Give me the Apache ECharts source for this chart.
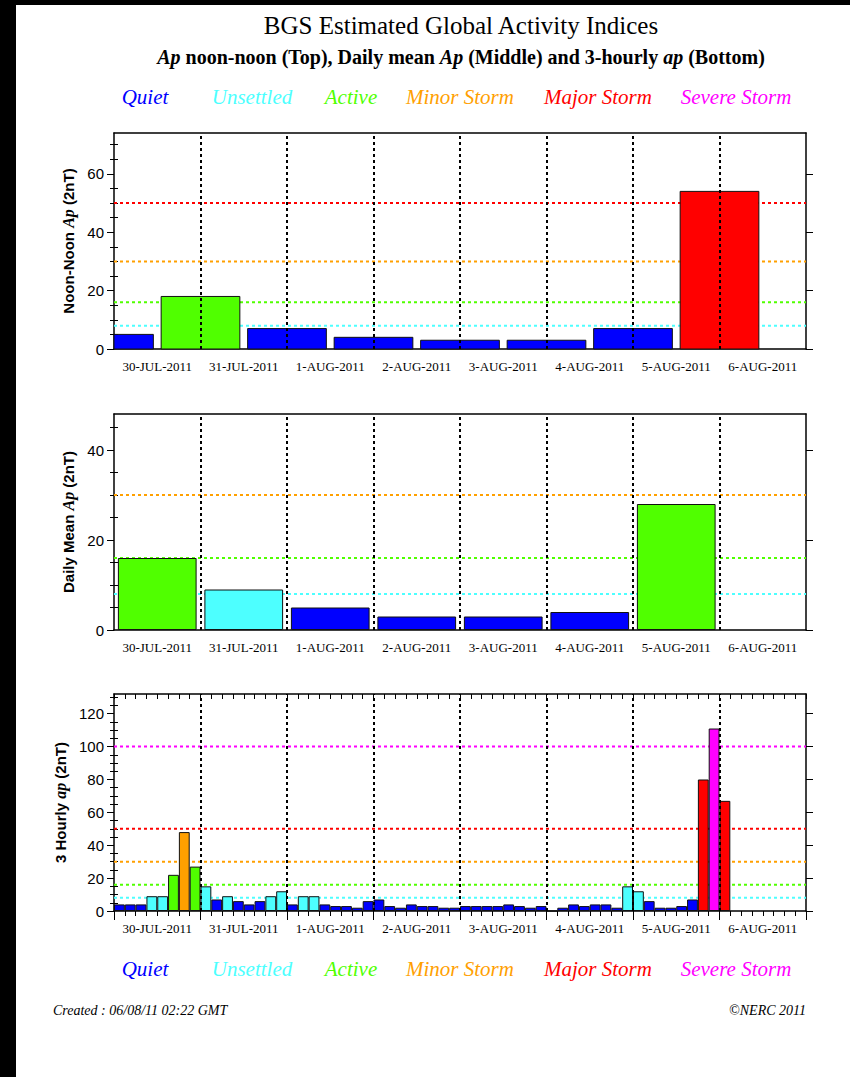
<!DOCTYPE html>
<html>
<head>
<meta charset="utf-8">
<script src="https://cdn.jsdelivr.net/npm/echarts@6/dist/echarts.min.js"></script>
<style>
html,body{margin:0;padding:0;background:#fff;}
#c{width:850px;height:1077px;}
</style>
</head>
<body>
<div id="c"></div>
<script>
// ---------- data ----------
const dayLabels = ['30-JUL-2011','31-JUL-2011','1-AUG-2011','2-AUG-2011','3-AUG-2011','4-AUG-2011','5-AUG-2011','6-AUG-2011'];
// Noon-noon Ap: each bar centred on the midnight that starts the given day index
const noonDayIndex = [0,1,2,3,4,5,6,7];
const noonAp = [5,18,7,4,3,3,7,54];
// Daily mean Ap (30-Jul .. 5-Aug)
const dailyAp = [16,9,5,3,3,4,28];
// 3-hourly ap, 8 values per day from 30-Jul 00UT
const hourlyAp = [
  4,4,4,9,9,22,48,27,
  15,7,9,6,4,6,9,12,
  4,9,9,4,3,3,2,6,
  7,3,2,4,3,3,2,2,
  3,3,3,3,4,3,2,3,
  0,2,4,3,4,4,2,15,
  12,6,2,2,3,7,80,111,
  67
];
const thresholds = [8,16,30,50,100];
const levelNames = ['Quiet','Unsettled','Active','Minor Storm','Major Storm','Severe Storm'];
const topTicks = [0,20,40,60];
const midTicks = [0,20,40];
const botTicks = [0,20,40,60,80,100,120];

// ---------- styles ----------
const levelColors = ['#0000ff','#4dffff','#50ff00','#ffa000','#ff0000','#ff00ff'];
function levelOf(v){ let k=0; thresholds.forEach(t=>{ if(v>=t) k++; }); return k; }

const grids = [
  {left:114, top:133, width:692, height:216},
  {left:114, top:414, width:692, height:216},
  {left:114, top:694, width:692, height:217}
];

const dayLines = {
  silent:true, symbol:['none','none'], label:{show:false}, z:5,
  emphasis:{disabled:true},
  lineStyle:{color:'#000', type:[3,3], width:2},
  data:[1,2,3,4,5,6,7].map(d=>({xAxis:d}))
};

const panels = [
  {yMax:74, ticks:topTicks, name:'{n|Noon-Noon }{i|Ap}{n| (2nT)}', xTicks:false},
  {yMax:48, ticks:midTicks, name:'{n|Daily Mean }{i|Ap}{n| (2nT)}', xTicks:false},
  {yMax:132, ticks:botTicks, name:'{n|3 Hourly }{i|ap}{n| (2nT)}', xTicks:true}
];

const xAxes = [], yAxes = [], series = [];
const axisLineStyle = {color:'#000', width:1.5};
panels.forEach((p, i) => {
  const minor = [];
  for (let v = 5; v < p.yMax; v += 5) if (v % 20 !== 0) minor.push(v);
  xAxes.push({
    gridIndex:i, type:'value', min:0, max:8, interval:1, position:'bottom',
    axisLine:{show:true, onZero:false, lineStyle:axisLineStyle},
    axisTick: p.xTicks ? {show:true, length:9, lineStyle:{color:'#000', width:1}} : {show:false},
    minorTick: p.xTicks ? {show:true, splitNumber:8, length:5, lineStyle:{color:'#000', width:1}} : {show:false},
    splitLine:{show:false}, minorSplitLine:{show:false},
    axisLabel:{show:true, customValues: dayLabels.map((_,k)=>k+0.5),
      formatter:(v)=>dayLabels[Math.floor(v)] || '',
      fontFamily:'Liberation Serif', fontSize:13, color:'#000', margin:11}
  });
  xAxes.push({
    gridIndex:i, type:'value', min:0, max:8, interval:1, position:'top',
    axisLine:{show:true, onZero:false, lineStyle:axisLineStyle},
    axisTick: p.xTicks ? {show:true, inside:true, length:5, lineStyle:{color:'#000', width:1}} : {show:false},
    minorTick: p.xTicks ? {show:true, splitNumber:8, length:5, lineStyle:{color:'#000', width:1}} : {show:false},
    splitLine:{show:false}, minorSplitLine:{show:false},
    axisLabel:{show:false}
  });
  yAxes.push({
    gridIndex:i, type:'value', min:0, max:p.yMax, position:'left',
    axisLine:{show:true, onZero:false, lineStyle:axisLineStyle},
    axisTick:{show:true, length:7, customValues:p.ticks, lineStyle:{color:'#000', width:1}},
    axisLabel:{show:true, customValues:p.ticks, fontFamily:'Liberation Sans', fontSize:15, color:'#000', margin:10},
    splitLine:{show:false},
    name:p.name, nameLocation:'middle', nameGap:38, nameRotate:90,
    nameTextStyle:{rich:{
      n:{fontFamily:'Liberation Sans', fontSize:15, fontWeight:'bold', color:'#000'},
      i:{fontFamily:'Liberation Serif', fontSize:16, fontStyle:'italic', fontWeight:'bold', color:'#000'}
    }}
  });
  yAxes.push({
    gridIndex:i, type:'value', min:0, max:p.yMax, position:'left',
    axisLine:{show:false}, axisTick:{show:true, length:4, customValues:minor, lineStyle:{color:'#000', width:1}},
    axisLabel:{show:false}, splitLine:{show:false}
  });
  yAxes.push({
    gridIndex:i, type:'value', min:0, max:p.yMax, position:'right',
    axisLine:{show:true, onZero:false, lineStyle:axisLineStyle},
    axisTick:{show:true, length:7, customValues:p.ticks, lineStyle:{color:'#000', width:1}},
    axisLabel:{show:false}, splitLine:{show:false}
  });
  yAxes.push({
    gridIndex:i, type:'value', min:0, max:p.yMax, position:'right',
    axisLine:{show:false}, axisTick:{show:true, length:4, customValues:minor, lineStyle:{color:'#000', width:1}},
    axisLabel:{show:false}, splitLine:{show:false}
  });
  thresholds.forEach((t, k) => {
    if (t >= p.yMax) return;
    series.push({
      type:'line', xAxisIndex:2*i, yAxisIndex:4*i, data:[[0,t],[8,t]],
      symbol:'none', silent:true, z:1,
      lineStyle:{color:levelColors[k+1], width:2, type:[3,3]}
    });
  });
});

// Top: noon-noon bars (custom series so the first half-bar is clipped to the plot)
series.push({
  type:'custom', xAxisIndex:0, yAxisIndex:0, z:2, silent:true,
  data: noonDayIndex.map((d,i)=>[d, noonAp[i]]),
  encode:{x:0, y:1},
  renderItem:(params, api) => {
    const x = api.value(0), v = api.value(1);
    const half = api.size([0.91, 0])[0] / 2;
    const c = api.coord([x, v]);
    const base = api.coord([x, 0]);
    const cs = params.coordSys;
    const shape = echarts.graphic.clipRectByRect(
      {x:c[0]-half, y:c[1], width:2*half, height:base[1]-c[1]},
      {x:cs.x, y:cs.y, width:cs.width, height:cs.height});
    if (!shape) return null;
    return {type:'rect', shape:shape, style:{fill:levelColors[levelOf(v)], stroke:'#111', lineWidth:1}};
  },
  markLine: dayLines
});
// Middle: daily mean
series.push({
  type:'bar', xAxisIndex:2, yAxisIndex:4, barWidth:'91%', z:2, silent:true,
  data: dailyAp.map((v,i)=>({value:[i+0.5, v], itemStyle:{color:levelColors[levelOf(v)]}})),
  itemStyle:{borderColor:'#111', borderWidth:1},
  markLine: dayLines
});
// Bottom: 3-hourly
series.push({
  type:'bar', xAxisIndex:4, yAxisIndex:8, barWidth:'100%', z:2, silent:true,
  data: hourlyAp.map((v,k)=>({value:[(k+0.5)/8, v], itemStyle:{color:levelColors[levelOf(v)]}})),
  itemStyle:{borderColor:'#111', borderWidth:1},
  markLine: dayLines
});

// ---------- text ----------
function txt(x, y, text, font, fill, align, extra){
  return Object.assign({type:'text', x:x, y:y, style:Object.assign({text:text, font:font, fill:fill,
    align:align, verticalAlign:'middle', textAlign:align, textVerticalAlign:'middle'}, extra || {})});
}
const graphic = [
  {type:'rect', shape:{x:0,y:0,width:16,height:1077}, style:{fill:'#000'}},
  {type:'rect', shape:{x:0,y:0,width:850,height:5}, style:{fill:'#000'}},
  txt(461, 25, 'BGS Estimated Global Activity Indices', '25px "Liberation Serif"', '#000', 'center'),
  txt(461, 57, '{i|Ap}{n| noon-noon (Top), Daily mean }{i|Ap}{n| (Middle) and 3-hourly }{i|ap}{n| (Bottom)}',
    'bold 20px "Liberation Serif"', '#000', 'center', {rich:{
      n:{fontFamily:'Liberation Serif', fontSize:20, fontWeight:'bold', fill:'#000', color:'#000'},
      i:{fontFamily:'Liberation Serif', fontSize:20, fontWeight:'bold', fontStyle:'italic', fill:'#000', color:'#000'}
    }})
];
const legendCenters = [145,252,351,460,598,736];
[97, 969].forEach(y => {
  levelNames.forEach((name, k) => {
    graphic.push(txt(legendCenters[k], y, name, 'italic 21px "Liberation Serif"', levelColors[k], 'center'));
  });
});
graphic.push(txt(53, 1010, 'Created : 06/08/11 02:22 GMT', 'italic 14px "Liberation Serif"', '#000', 'left'));
graphic.push(txt(806, 1010, '\u00A9NERC 2011', 'italic 14px "Liberation Serif"', '#000', 'right'));

const chart = echarts.init(document.getElementById('c'), null, {renderer:'svg'});
chart.setOption({
  animation:false,
  backgroundColor:'#fff',
  grid:grids,
  xAxis:xAxes,
  yAxis:yAxes,
  series:series,
  graphic:graphic
});
</script>
</body>
</html>
